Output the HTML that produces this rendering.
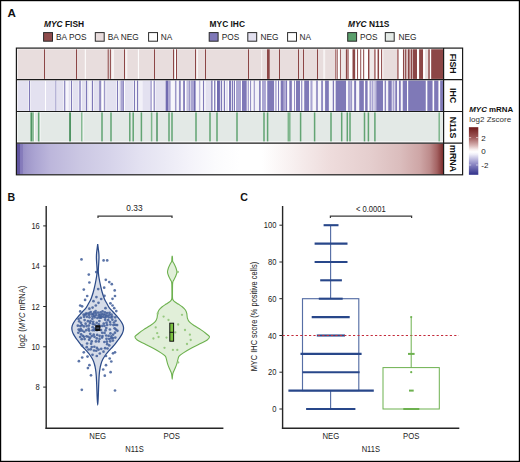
<!DOCTYPE html><html><head><meta charset="utf-8"><style>html,body{margin:0;padding:0;background:#fff}svg{display:block} text{font-family:"Liberation Sans", sans-serif}</style></head><body>
<svg width="520" height="462" viewBox="0 0 520 462">
<defs>
<linearGradient id="mg" x1="17" x2="443" y1="0" y2="0" gradientUnits="userSpaceOnUse">
<stop offset="0.0000" stop-color="#5f539e"/>
<stop offset="0.0075" stop-color="#62569f"/>
<stop offset="0.0080" stop-color="#8379ba"/>
<stop offset="0.0134" stop-color="#877dbb"/>
<stop offset="0.0138" stop-color="#978fc5"/>
<stop offset="0.0235" stop-color="#a098ca"/>
<stop offset="0.0423" stop-color="#aba4d2"/>
<stop offset="0.0775" stop-color="#bcb6db"/>
<stop offset="0.1479" stop-color="#cbc7e3"/>
<stop offset="0.2183" stop-color="#d6d3ea"/>
<stop offset="0.2887" stop-color="#e3e1f1"/>
<stop offset="0.3474" stop-color="#ebeaf5"/>
<stop offset="0.4061" stop-color="#f4f3fa"/>
<stop offset="0.4648" stop-color="#fbfbfd"/>
<stop offset="0.5235" stop-color="#ffffff"/>
<stop offset="0.5751" stop-color="#ffffff"/>
<stop offset="0.6408" stop-color="#f8f1f1"/>
<stop offset="0.7347" stop-color="#eedcdc"/>
<stop offset="0.8286" stop-color="#e5cece"/>
<stop offset="0.8991" stop-color="#dbbdbd"/>
<stop offset="0.9460" stop-color="#cea6a6"/>
<stop offset="0.9695" stop-color="#bd8b8b"/>
<stop offset="0.9859" stop-color="#a46262"/>
<stop offset="0.9953" stop-color="#8a4040"/>
<stop offset="1.0000" stop-color="#7b2c2c"/>
</linearGradient>
<linearGradient id="cb" x1="0" x2="0" y1="0" y2="1"><stop offset="0" stop-color="#6e1a1a"/><stop offset="0.22" stop-color="#a05a5a"/><stop offset="0.38" stop-color="#d7b3b3"/><stop offset="0.47" stop-color="#f7eeee"/><stop offset="0.52" stop-color="#ffffff"/><stop offset="0.57" stop-color="#efeef8"/><stop offset="0.66" stop-color="#c3c0e2"/><stop offset="0.78" stop-color="#8c87c4"/><stop offset="1" stop-color="#30308a"/></linearGradient>
</defs>
<rect x="0" y="0" width="520" height="462" fill="#fff"/>
<rect x="17.5" y="49.3" width="425.5" height="29.6" fill="#e8dddd"/>
<rect x="107.70" y="49.3" width="1.00" height="29.6" fill="#8c4646"/>
<rect x="109.90" y="49.3" width="1.00" height="29.6" fill="#8c4646"/>
<rect x="44.00" y="49.3" width="1.00" height="29.6" fill="#8c4646"/>
<rect x="76.00" y="49.3" width="1.00" height="29.6" fill="#8c4646"/>
<rect x="124.00" y="49.3" width="1.00" height="29.6" fill="#8c4646"/>
<rect x="154.00" y="49.3" width="1.00" height="29.6" fill="#8c4646"/>
<rect x="173.00" y="49.3" width="1.00" height="29.6" fill="#8c4646"/>
<rect x="176.00" y="49.3" width="1.00" height="29.6" fill="#8c4646"/>
<rect x="195.00" y="49.3" width="1.00" height="29.6" fill="#8c4646"/>
<rect x="205.00" y="49.3" width="1.00" height="29.6" fill="#8c4646"/>
<rect x="248.00" y="49.3" width="1.00" height="29.6" fill="#8c4646"/>
<rect x="279.00" y="49.3" width="1.00" height="29.6" fill="#8c4646"/>
<rect x="298.00" y="49.3" width="1.00" height="29.6" fill="#8c4646"/>
<rect x="303.00" y="49.3" width="1.00" height="29.6" fill="#8c4646"/>
<rect x="317.00" y="49.3" width="1.00" height="29.6" fill="#8c4646"/>
<rect x="111.60" y="49.3" width="2.40" height="29.6" fill="#f7f3f3"/>
<rect x="125.30" y="49.3" width="2.00" height="29.6" fill="#f7f3f3"/>
<rect x="323.20" y="49.3" width="2.00" height="29.6" fill="#f7f3f3"/>
<rect x="84.80" y="49.3" width="1.00" height="29.6" fill="#ffffff"/>
<rect x="137.90" y="49.3" width="1.00" height="29.6" fill="#ffffff"/>
<rect x="175.00" y="49.3" width="1.00" height="29.6" fill="#ffffff"/>
<rect x="196.70" y="49.3" width="1.00" height="29.6" fill="#ffffff"/>
<rect x="261.00" y="49.3" width="1.20" height="29.6" fill="#f6f0f0"/>
<rect x="267.00" y="49.3" width="2.70" height="29.6" fill="#8c4646"/>
<rect x="335.00" y="49.3" width="1.00" height="29.6" fill="#b27c7c"/>
<rect x="336.70" y="49.3" width="1.00" height="29.6" fill="#8c4646"/>
<rect x="337.90" y="49.3" width="1.70" height="29.6" fill="#ffffff"/>
<rect x="340.10" y="49.3" width="0.80" height="29.6" fill="#8c4646"/>
<rect x="341.20" y="49.3" width="4.50" height="29.6" fill="#efe8e8"/>
<rect x="345.90" y="49.3" width="1.40" height="29.6" fill="#8c4646"/>
<rect x="347.30" y="49.3" width="1.50" height="29.6" fill="#b27c7c"/>
<rect x="349.00" y="49.3" width="3.10" height="29.6" fill="#ffffff"/>
<rect x="352.60" y="49.3" width="2.60" height="29.6" fill="#8c4646"/>
<rect x="355.50" y="49.3" width="1.50" height="29.6" fill="#ffffff"/>
<rect x="357.10" y="49.3" width="0.90" height="29.6" fill="#8c4646"/>
<rect x="358.30" y="49.3" width="1.70" height="29.6" fill="#ffffff"/>
<rect x="360.30" y="49.3" width="1.00" height="29.6" fill="#8c4646"/>
<rect x="361.50" y="49.3" width="1.50" height="29.6" fill="#ffffff"/>
<rect x="363.20" y="49.3" width="0.90" height="29.6" fill="#8c4646"/>
<rect x="364.60" y="49.3" width="3.40" height="29.6" fill="#ffffff"/>
<rect x="368.00" y="49.3" width="1.40" height="29.6" fill="#8c4646"/>
<rect x="369.90" y="49.3" width="3.90" height="29.6" fill="#f0eaea"/>
<rect x="374.00" y="49.3" width="1.70" height="29.6" fill="#b27c7c"/>
<rect x="376.00" y="49.3" width="1.50" height="29.6" fill="#ffffff"/>
<rect x="377.60" y="49.3" width="1.60" height="29.6" fill="#8c4646"/>
<rect x="379.20" y="49.3" width="1.70" height="29.6" fill="#ffffff"/>
<rect x="381.10" y="49.3" width="1.20" height="29.6" fill="#8c4646"/>
<rect x="382.30" y="49.3" width="1.00" height="29.6" fill="#ffffff"/>
<rect x="397.00" y="49.3" width="1.70" height="29.6" fill="#b27c7c"/>
<rect x="399.00" y="49.3" width="3.80" height="29.6" fill="#ffffff"/>
<rect x="403.00" y="49.3" width="1.00" height="29.6" fill="#8c4646"/>
<rect x="404.00" y="49.3" width="1.00" height="29.6" fill="#d9c3c3"/>
<rect x="405.10" y="49.3" width="1.30" height="29.6" fill="#8c4646"/>
<rect x="406.60" y="49.3" width="1.20" height="29.6" fill="#d9c3c3"/>
<rect x="408.00" y="49.3" width="1.70" height="29.6" fill="#8c4646"/>
<rect x="409.90" y="49.3" width="0.70" height="29.6" fill="#ffffff"/>
<rect x="410.60" y="49.3" width="1.40" height="29.6" fill="#8c4646"/>
<rect x="412.00" y="49.3" width="0.60" height="29.6" fill="#ffffff"/>
<rect x="412.60" y="49.3" width="4.40" height="29.6" fill="#8c4646"/>
<rect x="417.00" y="49.3" width="1.90" height="29.6" fill="#ffffff"/>
<rect x="419.10" y="49.3" width="3.90" height="29.6" fill="#8c4646"/>
<rect x="423.20" y="49.3" width="1.90" height="29.6" fill="#ffffff"/>
<rect x="428.30" y="49.3" width="1.40" height="29.6" fill="#8c4646"/>
<rect x="430.00" y="49.3" width="1.00" height="29.6" fill="#ffffff"/>
<rect x="431.20" y="49.3" width="11.80" height="29.6" fill="#8c4646"/>
<rect x="17.5" y="80.6" width="425.5" height="30.3" fill="#e3e1f0"/>
<rect x="28.60" y="80.6" width="0.40" height="30.3" fill="#ffffff"/>
<rect x="29.00" y="80.6" width="1.00" height="30.3" fill="#7f79b7"/>
<rect x="30.00" y="80.6" width="0.40" height="30.3" fill="#ffffff"/>
<rect x="45.00" y="80.6" width="1.00" height="30.3" fill="#ffffff"/>
<rect x="55.00" y="80.6" width="0.50" height="30.3" fill="#ffffff"/>
<rect x="55.50" y="80.6" width="1.00" height="30.3" fill="#7f79b7"/>
<rect x="56.50" y="80.6" width="0.50" height="30.3" fill="#ffffff"/>
<rect x="63.50" y="80.6" width="0.70" height="30.3" fill="#ffffff"/>
<rect x="64.20" y="80.6" width="1.00" height="30.3" fill="#7f79b7"/>
<rect x="65.80" y="80.6" width="2.90" height="30.3" fill="#f7f6fb"/>
<rect x="70.50" y="80.6" width="0.50" height="30.3" fill="#ffffff"/>
<rect x="71.00" y="80.6" width="1.00" height="30.3" fill="#7f79b7"/>
<rect x="72.00" y="80.6" width="0.50" height="30.3" fill="#ffffff"/>
<rect x="78.60" y="80.6" width="0.40" height="30.3" fill="#ffffff"/>
<rect x="79.00" y="80.6" width="2.00" height="30.3" fill="#aaa5d2"/>
<rect x="81.00" y="80.6" width="0.70" height="30.3" fill="#ffffff"/>
<rect x="86.00" y="80.6" width="1.00" height="30.3" fill="#7f79b7"/>
<rect x="88.40" y="80.6" width="2.40" height="30.3" fill="#f7f6fb"/>
<rect x="92.00" y="80.6" width="1.00" height="30.3" fill="#7f79b7"/>
<rect x="93.00" y="80.6" width="0.50" height="30.3" fill="#ffffff"/>
<rect x="99.30" y="80.6" width="1.50" height="30.3" fill="#7f79b7"/>
<rect x="101.90" y="80.6" width="1.40" height="30.3" fill="#ffffff"/>
<rect x="104.30" y="80.6" width="1.00" height="30.3" fill="#7f79b7"/>
<rect x="105.50" y="80.6" width="0.70" height="30.3" fill="#ffffff"/>
<rect x="116.50" y="80.6" width="0.50" height="30.3" fill="#ffffff"/>
<rect x="117.00" y="80.6" width="1.00" height="30.3" fill="#7f79b7"/>
<rect x="118.40" y="80.6" width="0.80" height="30.3" fill="#ffffff"/>
<rect x="120.60" y="80.6" width="2.60" height="30.3" fill="#aaa5d2"/>
<rect x="123.20" y="80.6" width="0.80" height="30.3" fill="#7f79b7"/>
<rect x="124.00" y="80.6" width="1.00" height="30.3" fill="#ffffff"/>
<rect x="133.60" y="80.6" width="0.40" height="30.3" fill="#ffffff"/>
<rect x="134.00" y="80.6" width="1.00" height="30.3" fill="#7f79b7"/>
<rect x="135.50" y="80.6" width="1.00" height="30.3" fill="#ffffff"/>
<rect x="137.00" y="80.6" width="1.00" height="30.3" fill="#7f79b7"/>
<rect x="138.80" y="80.6" width="3.90" height="30.3" fill="#f2f1f8"/>
<rect x="150.40" y="80.6" width="1.40" height="30.3" fill="#aaa5d2"/>
<rect x="152.00" y="80.6" width="1.50" height="30.3" fill="#ffffff"/>
<rect x="153.70" y="80.6" width="1.00" height="30.3" fill="#7f79b7"/>
<rect x="155.00" y="80.6" width="0.50" height="30.3" fill="#ffffff"/>
<rect x="165.70" y="80.6" width="2.40" height="30.3" fill="#716bb0"/>
<rect x="168.10" y="80.6" width="2.40" height="30.3" fill="#aaa5d2"/>
<rect x="171.00" y="80.6" width="3.80" height="30.3" fill="#f7f6fb"/>
<rect x="175.30" y="80.6" width="1.00" height="30.3" fill="#7f79b7"/>
<rect x="176.80" y="80.6" width="1.90" height="30.3" fill="#f7f6fb"/>
<rect x="179.20" y="80.6" width="1.40" height="30.3" fill="#7f79b7"/>
<rect x="181.00" y="80.6" width="2.00" height="30.3" fill="#f7f6fb"/>
<rect x="183.20" y="80.6" width="1.70" height="30.3" fill="#7f79b7"/>
<rect x="185.00" y="80.6" width="1.50" height="30.3" fill="#ffffff"/>
<rect x="186.70" y="80.6" width="1.10" height="30.3" fill="#aaa5d2"/>
<rect x="187.80" y="80.6" width="0.70" height="30.3" fill="#ffffff"/>
<rect x="188.60" y="80.6" width="1.10" height="30.3" fill="#7f79b7"/>
<rect x="190.70" y="80.6" width="3.30" height="30.3" fill="#aaa5d2"/>
<rect x="194.00" y="80.6" width="1.50" height="30.3" fill="#716bb0"/>
<rect x="196.00" y="80.6" width="2.90" height="30.3" fill="#f7f6fb"/>
<rect x="199.30" y="80.6" width="1.00" height="30.3" fill="#aaa5d2"/>
<rect x="200.50" y="80.6" width="2.30" height="30.3" fill="#f7f6fb"/>
<rect x="203.00" y="80.6" width="1.00" height="30.3" fill="#7f79b7"/>
<rect x="204.50" y="80.6" width="1.00" height="30.3" fill="#ffffff"/>
<rect x="211.20" y="80.6" width="1.50" height="30.3" fill="#7f79b7"/>
<rect x="212.70" y="80.6" width="1.40" height="30.3" fill="#ffffff"/>
<rect x="214.10" y="80.6" width="1.50" height="30.3" fill="#7f79b7"/>
<rect x="215.60" y="80.6" width="1.40" height="30.3" fill="#ffffff"/>
<rect x="217.00" y="80.6" width="2.90" height="30.3" fill="#716bb0"/>
<rect x="220.90" y="80.6" width="1.40" height="30.3" fill="#7f79b7"/>
<rect x="222.30" y="80.6" width="1.50" height="30.3" fill="#ffffff"/>
<rect x="223.80" y="80.6" width="1.40" height="30.3" fill="#7f79b7"/>
<rect x="225.20" y="80.6" width="0.80" height="30.3" fill="#ffffff"/>
<rect x="228.00" y="80.6" width="1.00" height="30.3" fill="#ffffff"/>
<rect x="229.00" y="80.6" width="2.00" height="30.3" fill="#7f79b7"/>
<rect x="232.00" y="80.6" width="1.00" height="30.3" fill="#7f79b7"/>
<rect x="234.00" y="80.6" width="1.00" height="30.3" fill="#7f79b7"/>
<rect x="235.00" y="80.6" width="1.00" height="30.3" fill="#ffffff"/>
<rect x="236.00" y="80.6" width="5.00" height="30.3" fill="#aaa5d2"/>
<rect x="241.00" y="80.6" width="1.00" height="30.3" fill="#ffffff"/>
<rect x="242.00" y="80.6" width="4.80" height="30.3" fill="#7f79b7"/>
<rect x="246.80" y="80.6" width="1.00" height="30.3" fill="#ffffff"/>
<rect x="247.80" y="80.6" width="1.00" height="30.3" fill="#7f79b7"/>
<rect x="248.80" y="80.6" width="1.40" height="30.3" fill="#ffffff"/>
<rect x="250.20" y="80.6" width="1.00" height="30.3" fill="#7f79b7"/>
<rect x="251.20" y="80.6" width="2.60" height="30.3" fill="#f7f6fb"/>
<rect x="253.80" y="80.6" width="1.00" height="30.3" fill="#7f79b7"/>
<rect x="254.80" y="80.6" width="4.30" height="30.3" fill="#f2f1f8"/>
<rect x="259.10" y="80.6" width="1.50" height="30.3" fill="#7f79b7"/>
<rect x="261.00" y="80.6" width="1.00" height="30.3" fill="#ffffff"/>
<rect x="262.00" y="80.6" width="3.90" height="30.3" fill="#aaa5d2"/>
<rect x="266.20" y="80.6" width="0.90" height="30.3" fill="#ffffff"/>
<rect x="267.30" y="80.6" width="6.70" height="30.3" fill="#7f79b7"/>
<rect x="274.50" y="80.6" width="1.00" height="30.3" fill="#ffffff"/>
<rect x="275.50" y="80.6" width="1.00" height="30.3" fill="#7f79b7"/>
<rect x="276.70" y="80.6" width="1.20" height="30.3" fill="#ffffff"/>
<rect x="278.00" y="80.6" width="1.00" height="30.3" fill="#7f79b7"/>
<rect x="279.30" y="80.6" width="1.00" height="30.3" fill="#ffffff"/>
<rect x="280.80" y="80.6" width="2.90" height="30.3" fill="#7f79b7"/>
<rect x="284.00" y="80.6" width="1.80" height="30.3" fill="#aaa5d2"/>
<rect x="286.00" y="80.6" width="1.00" height="30.3" fill="#7f79b7"/>
<rect x="287.50" y="80.6" width="1.50" height="30.3" fill="#ffffff"/>
<rect x="289.40" y="80.6" width="2.40" height="30.3" fill="#7f79b7"/>
<rect x="292.30" y="80.6" width="1.50" height="30.3" fill="#ffffff"/>
<rect x="294.00" y="80.6" width="0.80" height="30.3" fill="#7f79b7"/>
<rect x="295.00" y="80.6" width="0.70" height="30.3" fill="#ffffff"/>
<rect x="296.00" y="80.6" width="4.10" height="30.3" fill="#7f79b7"/>
<rect x="300.10" y="80.6" width="1.00" height="30.3" fill="#ffffff"/>
<rect x="301.30" y="80.6" width="1.00" height="30.3" fill="#7f79b7"/>
<rect x="302.60" y="80.6" width="1.20" height="30.3" fill="#ffffff"/>
<rect x="304.30" y="80.6" width="4.70" height="30.3" fill="#7f79b7"/>
<rect x="309.30" y="80.6" width="1.00" height="30.3" fill="#ffffff"/>
<rect x="310.50" y="80.6" width="1.90" height="30.3" fill="#aaa5d2"/>
<rect x="312.90" y="80.6" width="2.90" height="30.3" fill="#f7f6fb"/>
<rect x="316.30" y="80.6" width="1.40" height="30.3" fill="#7f79b7"/>
<rect x="318.00" y="80.6" width="3.00" height="30.3" fill="#f7f6fb"/>
<rect x="321.30" y="80.6" width="1.50" height="30.3" fill="#7f79b7"/>
<rect x="323.00" y="80.6" width="2.00" height="30.3" fill="#f7f6fb"/>
<rect x="325.10" y="80.6" width="3.70" height="30.3" fill="#7f79b7"/>
<rect x="329.00" y="80.6" width="3.60" height="30.3" fill="#f7f6fb"/>
<rect x="332.80" y="80.6" width="1.20" height="30.3" fill="#7f79b7"/>
<rect x="334.30" y="80.6" width="1.20" height="30.3" fill="#ffffff"/>
<rect x="335.70" y="80.6" width="10.30" height="30.3" fill="#7f79b7"/>
<rect x="346.00" y="80.6" width="2.00" height="30.3" fill="#f7f6fb"/>
<rect x="348.00" y="80.6" width="2.80" height="30.3" fill="#aaa5d2"/>
<rect x="351.30" y="80.6" width="1.00" height="30.3" fill="#7f79b7"/>
<rect x="352.30" y="80.6" width="1.40" height="30.3" fill="#ffffff"/>
<rect x="354.20" y="80.6" width="1.90" height="30.3" fill="#7f79b7"/>
<rect x="356.40" y="80.6" width="2.60" height="30.3" fill="#f7f6fb"/>
<rect x="359.30" y="80.6" width="4.50" height="30.3" fill="#7f79b7"/>
<rect x="364.00" y="80.6" width="1.00" height="30.3" fill="#ffffff"/>
<rect x="365.20" y="80.6" width="2.40" height="30.3" fill="#7f79b7"/>
<rect x="367.90" y="80.6" width="1.20" height="30.3" fill="#ffffff"/>
<rect x="369.60" y="80.6" width="6.20" height="30.3" fill="#aaa5d2"/>
<rect x="371.00" y="80.6" width="0.50" height="30.3" fill="#ffffff"/>
<rect x="373.20" y="80.6" width="0.50" height="30.3" fill="#ffffff"/>
<rect x="374.60" y="80.6" width="0.50" height="30.3" fill="#ffffff"/>
<rect x="376.30" y="80.6" width="6.70" height="30.3" fill="#7f79b7"/>
<rect x="383.30" y="80.6" width="1.20" height="30.3" fill="#ffffff"/>
<rect x="384.70" y="80.6" width="1.20" height="30.3" fill="#7f79b7"/>
<rect x="386.20" y="80.6" width="1.60" height="30.3" fill="#f7f6fb"/>
<rect x="388.30" y="80.6" width="3.40" height="30.3" fill="#7f79b7"/>
<rect x="392.00" y="80.6" width="0.60" height="30.3" fill="#ffffff"/>
<rect x="392.60" y="80.6" width="1.40" height="30.3" fill="#aaa5d2"/>
<rect x="394.00" y="80.6" width="0.50" height="30.3" fill="#7f79b7"/>
<rect x="394.50" y="80.6" width="0.80" height="30.3" fill="#ffffff"/>
<rect x="395.30" y="80.6" width="1.70" height="30.3" fill="#7f79b7"/>
<rect x="397.10" y="80.6" width="1.70" height="30.3" fill="#f7f6fb"/>
<rect x="399.00" y="80.6" width="1.80" height="30.3" fill="#7f79b7"/>
<rect x="400.90" y="80.6" width="1.80" height="30.3" fill="#f7f6fb"/>
<rect x="402.80" y="80.6" width="4.20" height="30.3" fill="#7f79b7"/>
<rect x="407.00" y="80.6" width="1.20" height="30.3" fill="#ffffff"/>
<rect x="408.20" y="80.6" width="17.50" height="30.3" fill="#7f79b7"/>
<rect x="426.00" y="80.6" width="1.20" height="30.3" fill="#ffffff"/>
<rect x="427.40" y="80.6" width="5.20" height="30.3" fill="#7f79b7"/>
<rect x="432.80" y="80.6" width="1.20" height="30.3" fill="#ffffff"/>
<rect x="434.20" y="80.6" width="4.30" height="30.3" fill="#7f79b7"/>
<rect x="438.70" y="80.6" width="1.30" height="30.3" fill="#ffffff"/>
<rect x="440.20" y="80.6" width="2.80" height="30.3" fill="#7f79b7"/>
<rect x="17.5" y="112.4" width="425.5" height="29.0" fill="#e3e9e6"/>
<rect x="30.20" y="112.4" width="0.80" height="29.0" fill="#7db58b"/>
<rect x="31.00" y="112.4" width="1.20" height="29.0" fill="#4f9463"/>
<rect x="32.20" y="112.4" width="1.70" height="29.0" fill="#7db58b"/>
<rect x="33.90" y="112.4" width="0.90" height="29.0" fill="#ffffff"/>
<rect x="37.90" y="112.4" width="1.80" height="29.0" fill="#62a473"/>
<rect x="39.70" y="112.4" width="0.70" height="29.0" fill="#ffffff"/>
<rect x="69.10" y="112.4" width="1.90" height="29.0" fill="#4f9463"/>
<rect x="81.10" y="112.4" width="1.60" height="29.0" fill="#7db58b"/>
<rect x="82.70" y="112.4" width="0.70" height="29.0" fill="#ffffff"/>
<rect x="101.25" y="112.4" width="1.50" height="29.0" fill="#62a473"/>
<rect x="110.25" y="112.4" width="1.50" height="29.0" fill="#62a473"/>
<rect x="129.05" y="112.4" width="1.50" height="29.0" fill="#62a473"/>
<rect x="132.45" y="112.4" width="1.50" height="29.0" fill="#62a473"/>
<rect x="140.65" y="112.4" width="1.50" height="29.0" fill="#62a473"/>
<rect x="150.85" y="112.4" width="1.50" height="29.0" fill="#7db58b"/>
<rect x="156.25" y="112.4" width="1.50" height="29.0" fill="#4f9463"/>
<rect x="168.25" y="112.4" width="1.50" height="29.0" fill="#62a473"/>
<rect x="171.25" y="112.4" width="1.50" height="29.0" fill="#62a473"/>
<rect x="195.25" y="112.4" width="1.50" height="29.0" fill="#62a473"/>
<rect x="209.25" y="112.4" width="1.50" height="29.0" fill="#62a473"/>
<rect x="216.25" y="112.4" width="1.50" height="29.0" fill="#62a473"/>
<rect x="236.25" y="112.4" width="1.50" height="29.0" fill="#62a473"/>
<rect x="263.25" y="112.4" width="1.50" height="29.0" fill="#62a473"/>
<rect x="266.85" y="112.4" width="1.50" height="29.0" fill="#62a473"/>
<rect x="287.55" y="112.4" width="1.50" height="29.0" fill="#7db58b"/>
<rect x="289.05" y="112.4" width="1.50" height="29.0" fill="#7db58b"/>
<rect x="299.85" y="112.4" width="1.50" height="29.0" fill="#62a473"/>
<rect x="313.85" y="112.4" width="1.50" height="29.0" fill="#62a473"/>
<rect x="330.25" y="112.4" width="1.50" height="29.0" fill="#62a473"/>
<rect x="340.95" y="112.4" width="1.50" height="29.0" fill="#62a473"/>
<rect x="346.55" y="112.4" width="1.50" height="29.0" fill="#62a473"/>
<rect x="349.25" y="112.4" width="1.50" height="29.0" fill="#62a473"/>
<rect x="363.75" y="112.4" width="1.50" height="29.0" fill="#62a473"/>
<rect x="367.65" y="112.4" width="1.50" height="29.0" fill="#62a473"/>
<rect x="374.15" y="112.4" width="1.50" height="29.0" fill="#62a473"/>
<rect x="438.45" y="112.4" width="1.50" height="29.0" fill="#7db58b"/>
<rect x="16.8" y="143.8" width="426.2" height="30.6" fill="url(#mg)"/>
<g stroke="#1a1a1a" stroke-width="1.2" fill="none">
<rect x="16.4" y="48.1" width="446.2" height="126.7"/>
<line x1="16.4" x2="462.6" y1="79.6" y2="79.6"/>
<line x1="16.4" x2="462.6" y1="111.5" y2="111.5"/>
<line x1="16.4" x2="462.6" y1="143.2" y2="143.2"/>
<line x1="443.6" x2="443.6" y1="47.9" y2="174.8"/>
</g>
<text x="0" y="0" transform="translate(450.0,63.7) rotate(90)" font-size="8.8" font-weight="bold" text-anchor="middle" fill="#111">FISH</text>
<text x="0" y="0" transform="translate(450.0,95.7) rotate(90)" font-size="8.8" font-weight="bold" text-anchor="middle" fill="#111">IHC</text>
<text x="0" y="0" transform="translate(450.0,127.5) rotate(90)" font-size="8.8" font-weight="bold" text-anchor="middle" fill="#111">N11S</text>
<text x="0" y="0" transform="translate(450.0,158.5) rotate(90)" font-size="8.8" font-weight="bold" text-anchor="middle" fill="#111">mRNA</text>
<text x="7.6" y="17.2" font-size="11.6" font-weight="bold" fill="#111">A</text>
<text x="44.0" y="27.3" font-size="8.4" font-weight="bold" fill="#111"><tspan font-style="italic">MYC</tspan> FISH</text>
<text x="209.6" y="27.3" font-size="8.4" font-weight="bold" fill="#111">MYC IHC</text>
<text x="348.0" y="27.3" font-size="8.4" font-weight="bold" fill="#111"><tspan font-style="italic">MYC</tspan> N11S</text>
<rect x="43.6" y="32.6" width="8.9" height="8.6" fill="#8f4c4c" stroke="#2a2a2a" stroke-width="1"/>
<text x="56.0" y="39.6" font-size="8.3" fill="#262626">BA POS</text>
<rect x="95.3" y="32.6" width="8.9" height="8.6" fill="#e8dcdc" stroke="#2a2a2a" stroke-width="1"/>
<text x="107.8" y="39.6" font-size="8.3" fill="#262626">BA NEG</text>
<rect x="148.6" y="32.6" width="8.9" height="8.6" fill="#ffffff" stroke="#2a2a2a" stroke-width="1"/>
<text x="160.8" y="39.6" font-size="8.3" fill="#262626">NA</text>
<rect x="209.2" y="32.6" width="8.9" height="8.6" fill="#7f78b8" stroke="#2a2a2a" stroke-width="1"/>
<text x="221.8" y="39.6" font-size="8.3" fill="#262626">POS</text>
<rect x="247.8" y="32.6" width="8.9" height="8.6" fill="#e2e0ef" stroke="#2a2a2a" stroke-width="1"/>
<text x="260.4" y="39.6" font-size="8.3" fill="#262626">NEG</text>
<rect x="287.6" y="32.6" width="8.9" height="8.6" fill="#ffffff" stroke="#2a2a2a" stroke-width="1"/>
<text x="299.6" y="39.6" font-size="8.3" fill="#262626">NA</text>
<rect x="347.7" y="32.6" width="8.9" height="8.6" fill="#5a9f6c" stroke="#2a2a2a" stroke-width="1"/>
<text x="360.0" y="39.6" font-size="8.3" fill="#262626">POS</text>
<rect x="385.3" y="32.6" width="8.9" height="8.6" fill="#e3e9e5" stroke="#2a2a2a" stroke-width="1"/>
<text x="398.4" y="39.6" font-size="8.3" fill="#262626">NEG</text>
<text x="469.3" y="111.7" font-size="7.9" font-weight="bold" fill="#111"><tspan font-style="italic">MYC</tspan> mRNA</text>
<text x="469.3" y="121.6" font-size="8" fill="#333">log2 Zscore</text>
<rect x="468.9" y="127.2" width="9.4" height="47.6" fill="url(#cb)"/>
<line x1="469" x2="471.2" y1="137.6" y2="137.6" stroke="#fff" stroke-width="0.7" stroke-opacity="0.8"/>
<line x1="476" x2="478.3" y1="137.6" y2="137.6" stroke="#fff" stroke-width="0.7" stroke-opacity="0.8"/>
<text x="481.3" y="140.5" font-size="8" fill="#222">2</text>
<line x1="469" x2="471.2" y1="151.2" y2="151.2" stroke="#fff" stroke-width="0.7" stroke-opacity="0.8"/>
<line x1="476" x2="478.3" y1="151.2" y2="151.2" stroke="#fff" stroke-width="0.7" stroke-opacity="0.8"/>
<text x="481.3" y="154.1" font-size="8" fill="#222">0</text>
<line x1="469" x2="471.2" y1="165.0" y2="165.0" stroke="#fff" stroke-width="0.7" stroke-opacity="0.8"/>
<line x1="476" x2="478.3" y1="165.0" y2="165.0" stroke="#fff" stroke-width="0.7" stroke-opacity="0.8"/>
<text x="481.3" y="167.9" font-size="8" fill="#222">-2</text>
<text x="7.6" y="200.6" font-size="10.6" font-weight="bold" fill="#111">B</text>
<line x1="46.2" x2="46.2" y1="206" y2="429" stroke="#262626" stroke-width="1.4"/>
<line x1="45.5" x2="223.4" y1="428.2" y2="428.2" stroke="#262626" stroke-width="1.5"/>
<line x1="43.2" x2="46.2" y1="387.1" y2="387.1" stroke="#262626" stroke-width="1"/>
<text x="0" y="0" transform="translate(39.8,390.2) scale(0.88,1)" font-size="8.6" text-anchor="end" fill="#222">8</text>
<line x1="43.2" x2="46.2" y1="346.8" y2="346.8" stroke="#262626" stroke-width="1"/>
<text x="0" y="0" transform="translate(39.8,349.9) scale(0.88,1)" font-size="8.6" text-anchor="end" fill="#222">10</text>
<line x1="43.2" x2="46.2" y1="306.5" y2="306.5" stroke="#262626" stroke-width="1"/>
<text x="0" y="0" transform="translate(39.8,309.6) scale(0.88,1)" font-size="8.6" text-anchor="end" fill="#222">12</text>
<line x1="43.2" x2="46.2" y1="266.2" y2="266.2" stroke="#262626" stroke-width="1"/>
<text x="0" y="0" transform="translate(39.8,269.3) scale(0.88,1)" font-size="8.6" text-anchor="end" fill="#222">14</text>
<line x1="43.2" x2="46.2" y1="225.9" y2="225.9" stroke="#262626" stroke-width="1"/>
<text x="0" y="0" transform="translate(39.8,229.0) scale(0.88,1)" font-size="8.6" text-anchor="end" fill="#222">16</text>
<text x="0" y="0" transform="translate(24.5,317) rotate(-90) scale(0.84,1)" font-size="9" text-anchor="middle" fill="#222">log2 (<tspan font-style="italic">MYC</tspan> mRNA)</text>
<text x="0" y="0" transform="translate(97.7,438.6) scale(0.9,1)" font-size="8.6" text-anchor="middle" fill="#222">NEG</text>
<text x="0" y="0" transform="translate(171.7,438.6) scale(0.9,1)" font-size="8.6" text-anchor="middle" fill="#222">POS</text>
<text x="0" y="0" transform="translate(134.5,452.3) scale(0.9,1)" font-size="8.4" text-anchor="middle" fill="#222">N11S</text>
<path d="M98 218 V216.2 H172 V218" stroke="#3a3a3a" stroke-width="1.25" fill="none"/>
<text x="0" y="0" transform="translate(134.5,211) scale(0.95,1)" font-size="8.8" text-anchor="middle" fill="#222">0.33</text>
<path d="M97.70 244.00 C97.78 244.67 98.02 246.50 98.20 248.00 C98.38 249.50 98.67 251.42 98.80 253.00 C98.93 254.58 99.00 256.00 99.00 257.50 C99.00 259.00 98.89 260.42 98.80 262.00 C98.71 263.58 98.53 265.33 98.45 267.00 C98.37 268.67 98.22 270.33 98.30 272.00 C98.38 273.67 98.65 275.33 98.90 277.00 C99.15 278.67 99.45 280.23 99.80 282.00 C100.15 283.77 100.62 285.93 101.00 287.60 C101.38 289.27 101.65 290.43 102.10 292.00 C102.55 293.57 103.23 295.67 103.70 297.00 C104.17 298.33 104.42 299.00 104.90 300.00 C105.38 301.00 105.92 301.78 106.60 303.00 C107.28 304.22 107.98 305.88 109.00 307.30 C110.02 308.72 111.42 310.05 112.70 311.50 C113.98 312.95 115.48 314.58 116.70 316.00 C117.92 317.42 119.03 318.67 120.00 320.00 C120.97 321.33 121.92 322.78 122.50 324.00 C123.08 325.22 123.37 326.22 123.50 327.30 C123.63 328.38 123.50 329.47 123.30 330.50 C123.10 331.53 122.80 332.45 122.30 333.50 C121.80 334.55 121.00 335.72 120.30 336.80 C119.60 337.88 118.92 338.85 118.10 340.00 C117.28 341.15 116.33 342.53 115.40 343.70 C114.47 344.87 113.55 345.85 112.50 347.00 C111.45 348.15 110.15 349.43 109.10 350.60 C108.05 351.77 107.25 352.55 106.20 354.00 C105.15 355.45 103.67 357.63 102.80 359.30 C101.93 360.97 101.48 362.38 101.00 364.00 C100.52 365.62 100.20 367.17 99.90 369.00 C99.60 370.83 99.38 372.83 99.20 375.00 C99.02 377.17 98.92 379.50 98.80 382.00 C98.68 384.50 98.60 387.33 98.50 390.00 C98.40 392.67 98.33 395.50 98.20 398.00 C98.07 400.50 97.87 405.00 97.70 405.00 C97.53 405.00 97.33 400.50 97.20 398.00 C97.07 395.50 97.00 392.67 96.90 390.00 C96.80 387.33 96.72 384.50 96.60 382.00 C96.48 379.50 96.38 377.17 96.20 375.00 C96.02 372.83 95.80 370.83 95.50 369.00 C95.20 367.17 94.88 365.62 94.40 364.00 C93.92 362.38 93.47 360.97 92.60 359.30 C91.73 357.63 90.25 355.45 89.20 354.00 C88.15 352.55 87.35 351.77 86.30 350.60 C85.25 349.43 83.95 348.15 82.90 347.00 C81.85 345.85 80.93 344.87 80.00 343.70 C79.07 342.53 78.12 341.15 77.30 340.00 C76.48 338.85 75.80 337.88 75.10 336.80 C74.40 335.72 73.60 334.55 73.10 333.50 C72.60 332.45 72.30 331.53 72.10 330.50 C71.90 329.47 71.77 328.38 71.90 327.30 C72.03 326.22 72.32 325.22 72.90 324.00 C73.48 322.78 74.43 321.33 75.40 320.00 C76.37 318.67 77.48 317.42 78.70 316.00 C79.92 314.58 81.42 312.95 82.70 311.50 C83.98 310.05 85.38 308.72 86.40 307.30 C87.42 305.88 88.12 304.22 88.80 303.00 C89.48 301.78 90.02 301.00 90.50 300.00 C90.98 299.00 91.23 298.33 91.70 297.00 C92.17 295.67 92.85 293.57 93.30 292.00 C93.75 290.43 94.02 289.27 94.40 287.60 C94.78 285.93 95.25 283.77 95.60 282.00 C95.95 280.23 96.25 278.67 96.50 277.00 C96.75 275.33 97.03 273.67 97.10 272.00 C97.18 270.33 97.03 268.67 96.95 267.00 C96.87 265.33 96.69 263.58 96.60 262.00 C96.51 260.42 96.40 259.00 96.40 257.50 C96.40 256.00 96.47 254.58 96.60 253.00 C96.73 251.42 97.02 249.50 97.20 248.00 C97.38 246.50 97.62 244.67 97.70 244.00Z" fill="#d6dce8" stroke="#2b4a88" stroke-width="1.25"/>
<path d="M172.20 255.80 C172.25 256.17 172.42 257.08 172.50 258.00 C172.58 258.92 172.42 260.30 172.70 261.30 C172.98 262.30 173.65 262.88 174.20 264.00 C174.75 265.12 175.55 266.67 176.00 268.00 C176.45 269.33 176.93 270.67 176.90 272.00 C176.87 273.33 176.32 274.67 175.80 276.00 C175.28 277.33 174.32 278.88 173.80 280.00 C173.28 281.12 172.92 281.03 172.70 282.70 C172.48 284.37 172.53 287.62 172.50 290.00 C172.47 292.38 172.45 295.42 172.50 297.00 C172.55 298.58 172.52 298.78 172.80 299.50 C173.08 300.22 173.30 300.55 174.20 301.30 C175.10 302.05 176.82 303.05 178.20 304.00 C179.58 304.95 181.30 306.00 182.50 307.00 C183.70 308.00 184.68 308.92 185.40 310.00 C186.12 311.08 186.47 312.15 186.80 313.50 C187.13 314.85 186.97 316.70 187.40 318.10 C187.83 319.50 188.22 320.62 189.40 321.90 C190.58 323.18 192.62 324.52 194.50 325.80 C196.38 327.08 198.78 328.32 200.70 329.60 C202.62 330.88 204.53 332.32 206.00 333.50 C207.47 334.68 209.30 335.62 209.50 336.70 C209.70 337.78 208.80 338.82 207.20 340.00 C205.60 341.18 202.65 342.38 199.90 343.80 C197.15 345.22 193.52 346.95 190.70 348.50 C187.88 350.05 184.93 351.82 183.00 353.10 C181.07 354.38 179.93 355.18 179.10 356.20 C178.27 357.22 178.38 357.93 178.00 359.20 C177.62 360.47 177.30 362.25 176.80 363.80 C176.30 365.35 175.63 366.95 175.00 368.50 C174.37 370.05 173.42 371.82 173.00 373.10 C172.58 374.38 172.63 375.18 172.50 376.20 C172.37 377.22 172.30 379.20 172.20 379.20 C172.10 379.20 172.03 377.22 171.90 376.20 C171.77 375.18 171.82 374.38 171.40 373.10 C170.98 371.82 170.03 370.05 169.40 368.50 C168.77 366.95 168.10 365.35 167.60 363.80 C167.10 362.25 166.78 360.47 166.40 359.20 C166.02 357.93 166.13 357.22 165.30 356.20 C164.47 355.18 163.33 354.38 161.40 353.10 C159.47 351.82 156.52 350.05 153.70 348.50 C150.88 346.95 147.25 345.22 144.50 343.80 C141.75 342.38 138.80 341.18 137.20 340.00 C135.60 338.82 134.70 337.78 134.90 336.70 C135.10 335.62 136.93 334.68 138.40 333.50 C139.87 332.32 141.78 330.88 143.70 329.60 C145.62 328.32 148.02 327.08 149.90 325.80 C151.78 324.52 153.82 323.18 155.00 321.90 C156.18 320.62 156.57 319.50 157.00 318.10 C157.43 316.70 157.27 314.85 157.60 313.50 C157.93 312.15 158.28 311.08 159.00 310.00 C159.72 308.92 160.70 308.00 161.90 307.00 C163.10 306.00 164.82 304.95 166.20 304.00 C167.58 303.05 169.30 302.05 170.20 301.30 C171.10 300.55 171.32 300.22 171.60 299.50 C171.88 298.78 171.85 298.58 171.90 297.00 C171.95 295.42 171.93 292.38 171.90 290.00 C171.87 287.62 171.92 284.37 171.70 282.70 C171.48 281.03 171.12 281.12 170.60 280.00 C170.08 278.88 169.12 277.33 168.60 276.00 C168.08 274.67 167.53 273.33 167.50 272.00 C167.47 270.67 167.95 269.33 168.40 268.00 C168.85 266.67 169.65 265.12 170.20 264.00 C170.75 262.88 171.42 262.30 171.70 261.30 C171.98 260.30 171.82 258.92 171.90 258.00 C171.98 257.08 172.15 256.17 172.20 255.80Z" fill="#e1efd9" stroke="#6db14f" stroke-width="1.1"/>
<circle cx="81.50" cy="259.40" r="1.35" fill="#405d99" fill-opacity="0.85"/>
<circle cx="103.60" cy="260.40" r="1.35" fill="#405d99" fill-opacity="0.85"/>
<circle cx="107.20" cy="260.40" r="1.35" fill="#405d99" fill-opacity="0.85"/>
<circle cx="96.20" cy="272.10" r="1.35" fill="#405d99" fill-opacity="0.85"/>
<circle cx="88.80" cy="274.60" r="1.35" fill="#405d99" fill-opacity="0.85"/>
<circle cx="105.80" cy="279.80" r="1.35" fill="#405d99" fill-opacity="0.85"/>
<circle cx="89.40" cy="282.50" r="1.35" fill="#405d99" fill-opacity="0.85"/>
<circle cx="109.30" cy="282.10" r="1.35" fill="#405d99" fill-opacity="0.85"/>
<circle cx="111.80" cy="284.20" r="1.35" fill="#405d99" fill-opacity="0.85"/>
<circle cx="104.20" cy="287.70" r="1.35" fill="#405d99" fill-opacity="0.85"/>
<circle cx="83.80" cy="289.60" r="1.35" fill="#405d99" fill-opacity="0.85"/>
<circle cx="98.20" cy="289.10" r="1.35" fill="#405d99" fill-opacity="0.85"/>
<circle cx="114.70" cy="290.40" r="1.35" fill="#405d99" fill-opacity="0.85"/>
<circle cx="87.20" cy="296.00" r="1.35" fill="#405d99" fill-opacity="0.85"/>
<circle cx="96.40" cy="297.10" r="1.35" fill="#405d99" fill-opacity="0.85"/>
<circle cx="104.50" cy="295.80" r="1.35" fill="#405d99" fill-opacity="0.85"/>
<circle cx="115.00" cy="296.00" r="1.35" fill="#405d99" fill-opacity="0.85"/>
<circle cx="85.10" cy="299.90" r="1.35" fill="#405d99" fill-opacity="0.85"/>
<circle cx="93.50" cy="301.20" r="1.35" fill="#405d99" fill-opacity="0.85"/>
<circle cx="101.20" cy="299.00" r="1.35" fill="#405d99" fill-opacity="0.85"/>
<circle cx="112.50" cy="298.80" r="1.35" fill="#405d99" fill-opacity="0.85"/>
<circle cx="80.20" cy="305.50" r="1.35" fill="#405d99" fill-opacity="0.85"/>
<circle cx="82.10" cy="306.30" r="1.35" fill="#405d99" fill-opacity="0.85"/>
<circle cx="95.80" cy="305.50" r="1.35" fill="#405d99" fill-opacity="0.85"/>
<circle cx="98.50" cy="302.80" r="1.35" fill="#405d99" fill-opacity="0.85"/>
<circle cx="110.40" cy="303.30" r="1.35" fill="#405d99" fill-opacity="0.85"/>
<circle cx="112.50" cy="305.50" r="1.35" fill="#405d99" fill-opacity="0.85"/>
<circle cx="92.60" cy="307.60" r="1.35" fill="#405d99" fill-opacity="0.85"/>
<circle cx="105.50" cy="308.20" r="1.35" fill="#405d99" fill-opacity="0.85"/>
<circle cx="114.20" cy="308.20" r="1.35" fill="#405d99" fill-opacity="0.85"/>
<circle cx="80.20" cy="311.40" r="1.35" fill="#405d99" fill-opacity="0.85"/>
<circle cx="89.40" cy="308.70" r="1.35" fill="#405d99" fill-opacity="0.85"/>
<circle cx="116.30" cy="311.10" r="1.35" fill="#405d99" fill-opacity="0.85"/>
<circle cx="87.20" cy="313.50" r="1.35" fill="#405d99" fill-opacity="0.85"/>
<circle cx="93.20" cy="314.10" r="1.35" fill="#405d99" fill-opacity="0.85"/>
<circle cx="98.00" cy="312.50" r="1.35" fill="#405d99" fill-opacity="0.85"/>
<circle cx="102.30" cy="314.10" r="1.35" fill="#405d99" fill-opacity="0.85"/>
<circle cx="107.20" cy="313.00" r="1.35" fill="#405d99" fill-opacity="0.85"/>
<circle cx="111.50" cy="314.60" r="1.35" fill="#405d99" fill-opacity="0.85"/>
<circle cx="84.00" cy="316.80" r="1.35" fill="#405d99" fill-opacity="0.85"/>
<circle cx="89.40" cy="317.30" r="1.35" fill="#405d99" fill-opacity="0.85"/>
<circle cx="94.80" cy="317.30" r="1.35" fill="#405d99" fill-opacity="0.85"/>
<circle cx="103.40" cy="316.80" r="1.35" fill="#405d99" fill-opacity="0.85"/>
<circle cx="108.80" cy="317.30" r="1.35" fill="#405d99" fill-opacity="0.85"/>
<circle cx="115.20" cy="317.30" r="1.35" fill="#405d99" fill-opacity="0.85"/>
<circle cx="78.60" cy="318.90" r="1.35" fill="#405d99" fill-opacity="0.85"/>
<circle cx="80.80" cy="317.80" r="1.35" fill="#405d99" fill-opacity="0.85"/>
<circle cx="82.00" cy="345.50" r="1.35" fill="#405d99" fill-opacity="0.85"/>
<circle cx="83.80" cy="352.30" r="1.35" fill="#405d99" fill-opacity="0.85"/>
<circle cx="82.20" cy="357.50" r="1.35" fill="#405d99" fill-opacity="0.85"/>
<circle cx="78.90" cy="361.20" r="1.35" fill="#405d99" fill-opacity="0.85"/>
<circle cx="87.50" cy="356.60" r="1.35" fill="#405d99" fill-opacity="0.85"/>
<circle cx="92.50" cy="354.80" r="1.35" fill="#405d99" fill-opacity="0.85"/>
<circle cx="96.80" cy="356.00" r="1.35" fill="#405d99" fill-opacity="0.85"/>
<circle cx="99.80" cy="353.50" r="1.35" fill="#405d99" fill-opacity="0.85"/>
<circle cx="103.50" cy="351.70" r="1.35" fill="#405d99" fill-opacity="0.85"/>
<circle cx="106.00" cy="356.00" r="1.35" fill="#405d99" fill-opacity="0.85"/>
<circle cx="109.70" cy="358.50" r="1.35" fill="#405d99" fill-opacity="0.85"/>
<circle cx="111.30" cy="361.50" r="1.35" fill="#405d99" fill-opacity="0.85"/>
<circle cx="113.00" cy="353.30" r="1.35" fill="#405d99" fill-opacity="0.85"/>
<circle cx="115.00" cy="352.30" r="1.35" fill="#405d99" fill-opacity="0.85"/>
<circle cx="89.40" cy="365.20" r="1.35" fill="#405d99" fill-opacity="0.85"/>
<circle cx="87.90" cy="368.10" r="1.35" fill="#405d99" fill-opacity="0.85"/>
<circle cx="106.00" cy="365.20" r="1.35" fill="#405d99" fill-opacity="0.85"/>
<circle cx="103.20" cy="369.50" r="1.35" fill="#405d99" fill-opacity="0.85"/>
<circle cx="110.60" cy="372.20" r="1.35" fill="#405d99" fill-opacity="0.85"/>
<circle cx="91.00" cy="375.30" r="1.35" fill="#405d99" fill-opacity="0.85"/>
<circle cx="104.80" cy="375.70" r="1.35" fill="#405d99" fill-opacity="0.85"/>
<circle cx="81.80" cy="389.80" r="1.35" fill="#405d99" fill-opacity="0.85"/>
<circle cx="115.00" cy="390.50" r="1.35" fill="#405d99" fill-opacity="0.85"/>
<circle cx="88.50" cy="349.50" r="1.35" fill="#405d99" fill-opacity="0.85"/>
<circle cx="107.50" cy="348.50" r="1.35" fill="#405d99" fill-opacity="0.85"/>
<circle cx="94.00" cy="350.50" r="1.35" fill="#405d99" fill-opacity="0.85"/>
<circle cx="108.63" cy="335.92" r="1.35" fill="#405d99" fill-opacity="0.85"/>
<circle cx="96.93" cy="347.89" r="1.35" fill="#405d99" fill-opacity="0.85"/>
<circle cx="91.71" cy="347.04" r="1.35" fill="#405d99" fill-opacity="0.85"/>
<circle cx="78.34" cy="332.75" r="1.35" fill="#405d99" fill-opacity="0.85"/>
<circle cx="112.37" cy="319.67" r="1.35" fill="#405d99" fill-opacity="0.85"/>
<circle cx="106.83" cy="341.63" r="1.35" fill="#405d99" fill-opacity="0.85"/>
<circle cx="98.92" cy="316.55" r="1.35" fill="#405d99" fill-opacity="0.85"/>
<circle cx="113.01" cy="338.11" r="1.35" fill="#405d99" fill-opacity="0.85"/>
<circle cx="94.36" cy="346.75" r="1.35" fill="#405d99" fill-opacity="0.85"/>
<circle cx="101.06" cy="317.64" r="1.35" fill="#405d99" fill-opacity="0.85"/>
<circle cx="110.42" cy="324.52" r="1.35" fill="#405d99" fill-opacity="0.85"/>
<circle cx="96.93" cy="330.23" r="1.35" fill="#405d99" fill-opacity="0.85"/>
<circle cx="81.70" cy="339.19" r="1.35" fill="#405d99" fill-opacity="0.85"/>
<circle cx="77.83" cy="325.65" r="1.35" fill="#405d99" fill-opacity="0.85"/>
<circle cx="109.51" cy="312.87" r="1.35" fill="#405d99" fill-opacity="0.85"/>
<circle cx="92.38" cy="318.86" r="1.35" fill="#405d99" fill-opacity="0.85"/>
<circle cx="81.92" cy="325.19" r="1.35" fill="#405d99" fill-opacity="0.85"/>
<circle cx="109.27" cy="345.39" r="1.35" fill="#405d99" fill-opacity="0.85"/>
<circle cx="98.99" cy="314.65" r="1.35" fill="#405d99" fill-opacity="0.85"/>
<circle cx="111.15" cy="317.46" r="1.35" fill="#405d99" fill-opacity="0.85"/>
<circle cx="104.94" cy="312.31" r="1.35" fill="#405d99" fill-opacity="0.85"/>
<circle cx="96.32" cy="315.27" r="1.35" fill="#405d99" fill-opacity="0.85"/>
<circle cx="89.14" cy="330.53" r="1.35" fill="#405d99" fill-opacity="0.85"/>
<circle cx="92.63" cy="327.15" r="1.35" fill="#405d99" fill-opacity="0.85"/>
<circle cx="91.75" cy="336.08" r="1.35" fill="#405d99" fill-opacity="0.85"/>
<circle cx="105.50" cy="314.57" r="1.35" fill="#405d99" fill-opacity="0.85"/>
<circle cx="106.52" cy="338.78" r="1.35" fill="#405d99" fill-opacity="0.85"/>
<circle cx="88.84" cy="325.54" r="1.35" fill="#405d99" fill-opacity="0.85"/>
<circle cx="105.52" cy="330.43" r="1.35" fill="#405d99" fill-opacity="0.85"/>
<circle cx="80.14" cy="336.99" r="1.35" fill="#405d99" fill-opacity="0.85"/>
<circle cx="104.51" cy="332.88" r="1.35" fill="#405d99" fill-opacity="0.85"/>
<circle cx="109.92" cy="329.52" r="1.35" fill="#405d99" fill-opacity="0.85"/>
<circle cx="107.24" cy="324.92" r="1.35" fill="#405d99" fill-opacity="0.85"/>
<circle cx="107.20" cy="344.13" r="1.35" fill="#405d99" fill-opacity="0.85"/>
<circle cx="84.24" cy="331.73" r="1.35" fill="#405d99" fill-opacity="0.85"/>
<circle cx="101.01" cy="330.09" r="1.35" fill="#405d99" fill-opacity="0.85"/>
<circle cx="102.06" cy="337.62" r="1.35" fill="#405d99" fill-opacity="0.85"/>
<circle cx="104.38" cy="341.99" r="1.35" fill="#405d99" fill-opacity="0.85"/>
<circle cx="90.72" cy="312.10" r="1.35" fill="#405d99" fill-opacity="0.85"/>
<circle cx="96.72" cy="338.44" r="1.35" fill="#405d99" fill-opacity="0.85"/>
<circle cx="84.61" cy="320.05" r="1.35" fill="#405d99" fill-opacity="0.85"/>
<circle cx="85.63" cy="323.69" r="1.35" fill="#405d99" fill-opacity="0.85"/>
<circle cx="100.53" cy="312.43" r="1.35" fill="#405d99" fill-opacity="0.85"/>
<circle cx="113.14" cy="334.61" r="1.35" fill="#405d99" fill-opacity="0.85"/>
<circle cx="95.60" cy="311.03" r="1.35" fill="#405d99" fill-opacity="0.85"/>
<circle cx="102.31" cy="325.96" r="1.35" fill="#405d99" fill-opacity="0.85"/>
<circle cx="100.45" cy="314.79" r="1.35" fill="#405d99" fill-opacity="0.85"/>
<circle cx="113.42" cy="325.04" r="1.35" fill="#405d99" fill-opacity="0.85"/>
<circle cx="86.57" cy="326.03" r="1.35" fill="#405d99" fill-opacity="0.85"/>
<circle cx="117.44" cy="330.85" r="1.35" fill="#405d99" fill-opacity="0.85"/>
<circle cx="82.25" cy="330.67" r="1.35" fill="#405d99" fill-opacity="0.85"/>
<circle cx="115.55" cy="320.83" r="1.35" fill="#405d99" fill-opacity="0.85"/>
<circle cx="96.73" cy="322.73" r="1.35" fill="#405d99" fill-opacity="0.85"/>
<circle cx="83.89" cy="336.80" r="1.35" fill="#405d99" fill-opacity="0.85"/>
<circle cx="98.74" cy="341.42" r="1.35" fill="#405d99" fill-opacity="0.85"/>
<circle cx="98.89" cy="324.44" r="1.35" fill="#405d99" fill-opacity="0.85"/>
<circle cx="78.67" cy="329.57" r="1.35" fill="#405d99" fill-opacity="0.85"/>
<circle cx="99.38" cy="321.10" r="1.35" fill="#405d99" fill-opacity="0.85"/>
<circle cx="106.28" cy="328.11" r="1.35" fill="#405d99" fill-opacity="0.85"/>
<circle cx="86.57" cy="336.29" r="1.35" fill="#405d99" fill-opacity="0.85"/>
<circle cx="80.98" cy="322.86" r="1.35" fill="#405d99" fill-opacity="0.85"/>
<circle cx="114.61" cy="328.31" r="1.35" fill="#405d99" fill-opacity="0.85"/>
<circle cx="86.84" cy="316.71" r="1.35" fill="#405d99" fill-opacity="0.85"/>
<circle cx="81.10" cy="334.43" r="1.35" fill="#405d99" fill-opacity="0.85"/>
<circle cx="108.17" cy="320.20" r="1.35" fill="#405d99" fill-opacity="0.85"/>
<circle cx="115.31" cy="337.54" r="1.35" fill="#405d99" fill-opacity="0.85"/>
<circle cx="109.22" cy="339.05" r="1.35" fill="#405d99" fill-opacity="0.85"/>
<circle cx="105.22" cy="319.77" r="1.35" fill="#405d99" fill-opacity="0.85"/>
<circle cx="101.48" cy="316.39" r="1.35" fill="#405d99" fill-opacity="0.85"/>
<circle cx="95.88" cy="313.30" r="1.35" fill="#405d99" fill-opacity="0.85"/>
<circle cx="99.56" cy="338.89" r="1.35" fill="#405d99" fill-opacity="0.85"/>
<circle cx="99.62" cy="335.84" r="1.35" fill="#405d99" fill-opacity="0.85"/>
<circle cx="87.91" cy="321.17" r="1.35" fill="#405d99" fill-opacity="0.85"/>
<circle cx="104.51" cy="325.85" r="1.35" fill="#405d99" fill-opacity="0.85"/>
<circle cx="86.35" cy="330.22" r="1.35" fill="#405d99" fill-opacity="0.85"/>
<circle cx="92.50" cy="316.59" r="1.35" fill="#405d99" fill-opacity="0.85"/>
<circle cx="98.42" cy="328.34" r="1.35" fill="#405d99" fill-opacity="0.85"/>
<circle cx="93.71" cy="334.71" r="1.35" fill="#405d99" fill-opacity="0.85"/>
<circle cx="89.13" cy="314.88" r="1.35" fill="#405d99" fill-opacity="0.85"/>
<circle cx="92.56" cy="330.24" r="1.35" fill="#405d99" fill-opacity="0.85"/>
<circle cx="83.87" cy="326.43" r="1.35" fill="#405d99" fill-opacity="0.85"/>
<circle cx="113.90" cy="322.48" r="1.35" fill="#405d99" fill-opacity="0.85"/>
<circle cx="96.55" cy="325.76" r="1.35" fill="#405d99" fill-opacity="0.85"/>
<circle cx="101.23" cy="348.82" r="1.35" fill="#405d99" fill-opacity="0.85"/>
<circle cx="106.49" cy="322.64" r="1.35" fill="#405d99" fill-opacity="0.85"/>
<circle cx="105.23" cy="317.53" r="1.35" fill="#405d99" fill-opacity="0.85"/>
<circle cx="89.15" cy="339.72" r="1.35" fill="#405d99" fill-opacity="0.85"/>
<circle cx="94.46" cy="336.83" r="1.35" fill="#405d99" fill-opacity="0.85"/>
<circle cx="85.11" cy="314.75" r="1.35" fill="#405d99" fill-opacity="0.85"/>
<circle cx="90.54" cy="321.22" r="1.35" fill="#405d99" fill-opacity="0.85"/>
<circle cx="89.30" cy="313.05" r="1.35" fill="#405d99" fill-opacity="0.85"/>
<circle cx="97.19" cy="334.93" r="1.35" fill="#405d99" fill-opacity="0.85"/>
<circle cx="90.19" cy="333.86" r="1.35" fill="#405d99" fill-opacity="0.85"/>
<circle cx="80.75" cy="328.96" r="1.35" fill="#405d99" fill-opacity="0.85"/>
<circle cx="91.69" cy="314.37" r="1.35" fill="#405d99" fill-opacity="0.85"/>
<circle cx="103.75" cy="323.56" r="1.35" fill="#405d99" fill-opacity="0.85"/>
<circle cx="95.91" cy="341.39" r="1.35" fill="#405d99" fill-opacity="0.85"/>
<circle cx="91.11" cy="343.67" r="1.35" fill="#405d99" fill-opacity="0.85"/>
<circle cx="87.13" cy="343.48" r="1.35" fill="#405d99" fill-opacity="0.85"/>
<circle cx="85.90" cy="313.64" r="1.35" fill="#405d99" fill-opacity="0.85"/>
<circle cx="106.19" cy="335.48" r="1.35" fill="#405d99" fill-opacity="0.85"/>
<circle cx="109.61" cy="314.81" r="1.35" fill="#405d99" fill-opacity="0.85"/>
<circle cx="94.39" cy="328.66" r="1.35" fill="#405d99" fill-opacity="0.85"/>
<circle cx="94.10" cy="312.31" r="1.35" fill="#405d99" fill-opacity="0.85"/>
<circle cx="117.09" cy="325.07" r="1.35" fill="#405d99" fill-opacity="0.85"/>
<circle cx="82.77" cy="335.73" r="1.35" fill="#405d99" fill-opacity="0.85"/>
<circle cx="92.80" cy="323.96" r="1.35" fill="#405d99" fill-opacity="0.85"/>
<circle cx="102.55" cy="311.40" r="1.35" fill="#405d99" fill-opacity="0.85"/>
<circle cx="90.13" cy="337.81" r="1.35" fill="#405d99" fill-opacity="0.85"/>
<circle cx="91.71" cy="341.38" r="1.35" fill="#405d99" fill-opacity="0.85"/>
<circle cx="105.11" cy="348.17" r="1.35" fill="#405d99" fill-opacity="0.85"/>
<circle cx="112.89" cy="340.54" r="1.35" fill="#405d99" fill-opacity="0.85"/>
<circle cx="102.21" cy="332.76" r="1.35" fill="#405d99" fill-opacity="0.85"/>
<circle cx="99.88" cy="326.47" r="1.35" fill="#405d99" fill-opacity="0.85"/>
<circle cx="99.85" cy="317.70" r="1.35" fill="#405d99" fill-opacity="0.85"/>
<circle cx="86.72" cy="347.19" r="1.35" fill="#405d99" fill-opacity="0.85"/>
<circle cx="107.69" cy="315.62" r="1.35" fill="#405d99" fill-opacity="0.85"/>
<circle cx="90.76" cy="349.29" r="1.35" fill="#405d99" fill-opacity="0.85"/>
<circle cx="103.79" cy="314.71" r="1.35" fill="#405d99" fill-opacity="0.85"/>
<circle cx="98.56" cy="349.60" r="1.35" fill="#405d99" fill-opacity="0.85"/>
<circle cx="80.31" cy="326.01" r="1.35" fill="#405d99" fill-opacity="0.85"/>
<circle cx="94.17" cy="315.67" r="1.35" fill="#405d99" fill-opacity="0.85"/>
<circle cx="94.54" cy="324.48" r="1.35" fill="#405d99" fill-opacity="0.85"/>
<circle cx="114.97" cy="332.65" r="1.35" fill="#405d99" fill-opacity="0.85"/>
<circle cx="83.59" cy="314.67" r="1.35" fill="#405d99" fill-opacity="0.85"/>
<circle cx="88.61" cy="328.71" r="1.35" fill="#405d99" fill-opacity="0.85"/>
<circle cx="111.36" cy="336.43" r="1.35" fill="#405d99" fill-opacity="0.85"/>
<circle cx="96.28" cy="350.77" r="1.35" fill="#405d99" fill-opacity="0.85"/>
<circle cx="93.24" cy="321.84" r="1.35" fill="#405d99" fill-opacity="0.85"/>
<circle cx="106.23" cy="316.45" r="1.35" fill="#405d99" fill-opacity="0.85"/>
<circle cx="84.61" cy="339.08" r="1.35" fill="#405d99" fill-opacity="0.85"/>
<circle cx="88.32" cy="336.74" r="1.35" fill="#405d99" fill-opacity="0.85"/>
<circle cx="94.37" cy="330.25" r="1.35" fill="#405d99" fill-opacity="0.85"/>
<circle cx="115.23" cy="324.83" r="1.35" fill="#405d99" fill-opacity="0.85"/>
<circle cx="89.92" cy="323.07" r="1.35" fill="#405d99" fill-opacity="0.85"/>
<circle cx="112.23" cy="316.52" r="1.35" fill="#405d99" fill-opacity="0.85"/>
<circle cx="110.11" cy="322.03" r="1.35" fill="#405d99" fill-opacity="0.85"/>
<circle cx="102.45" cy="336.03" r="1.35" fill="#405d99" fill-opacity="0.85"/>
<circle cx="110.46" cy="333.45" r="1.35" fill="#405d99" fill-opacity="0.85"/>
<circle cx="79.91" cy="330.78" r="1.35" fill="#405d99" fill-opacity="0.85"/>
<circle cx="111.20" cy="338.36" r="1.35" fill="#405d99" fill-opacity="0.85"/>
<circle cx="79.24" cy="321.35" r="1.35" fill="#405d99" fill-opacity="0.85"/>
<circle cx="110.20" cy="341.33" r="1.35" fill="#405d99" fill-opacity="0.85"/>
<circle cx="116.04" cy="329.62" r="1.35" fill="#405d99" fill-opacity="0.85"/>
<circle cx="97.41" cy="317.99" r="1.35" fill="#405d99" fill-opacity="0.85"/>
<rect x="95.8" y="325.8" width="4" height="4.6" fill="#111" stroke="#0b0b0b" stroke-width="1"/>
<line x1="96.3" x2="99.3" y1="328.1" y2="328.1" stroke="#6f8cc0" stroke-width="0.8"/>
<circle cx="157.70" cy="313.70" r="1.15" fill="#98c981"/>
<circle cx="163.60" cy="316.60" r="1.15" fill="#98c981"/>
<circle cx="182.00" cy="314.80" r="1.15" fill="#98c981"/>
<circle cx="177.80" cy="272.00" r="1.15" fill="#98c981"/>
<circle cx="155.70" cy="327.40" r="1.15" fill="#98c981"/>
<circle cx="178.20" cy="324.50" r="1.15" fill="#98c981"/>
<circle cx="157.20" cy="333.20" r="1.15" fill="#98c981"/>
<circle cx="158.60" cy="337.00" r="1.15" fill="#98c981"/>
<circle cx="153.40" cy="338.50" r="1.15" fill="#98c981"/>
<circle cx="166.50" cy="337.60" r="1.15" fill="#98c981"/>
<circle cx="175.30" cy="332.40" r="1.15" fill="#98c981"/>
<circle cx="189.90" cy="334.70" r="1.15" fill="#98c981"/>
<circle cx="190.70" cy="340.00" r="1.15" fill="#98c981"/>
<circle cx="187.00" cy="344.00" r="1.15" fill="#98c981"/>
<circle cx="164.50" cy="347.80" r="1.15" fill="#98c981"/>
<circle cx="172.90" cy="349.90" r="1.15" fill="#98c981"/>
<circle cx="177.30" cy="349.90" r="1.15" fill="#98c981"/>
<circle cx="178.20" cy="362.40" r="1.15" fill="#98c981"/>
<circle cx="168.50" cy="320.00" r="1.15" fill="#98c981"/>
<circle cx="185.00" cy="330.00" r="1.15" fill="#98c981"/>
<rect x="169.8" y="323.2" width="3.8" height="18" fill="#7cc242" stroke="#111" stroke-width="1"/>
<line x1="169.8" x2="173.6" y1="332.3" y2="332.3" stroke="#111" stroke-width="1"/>
<text x="240.2" y="200.6" font-size="10.6" font-weight="bold" fill="#111">C</text>
<line x1="282.6" x2="282.6" y1="206" y2="429" stroke="#262626" stroke-width="1.4"/>
<line x1="281.9" x2="459.3" y1="428.2" y2="428.2" stroke="#262626" stroke-width="1.5"/>
<line x1="279.4" x2="282.6" y1="409.0" y2="409.0" stroke="#262626" stroke-width="1"/>
<text x="0" y="0" transform="translate(276.4,412.1) scale(0.88,1)" font-size="8.6" text-anchor="end" fill="#222">0</text>
<line x1="279.4" x2="282.6" y1="372.2" y2="372.2" stroke="#262626" stroke-width="1"/>
<text x="0" y="0" transform="translate(276.4,375.3) scale(0.88,1)" font-size="8.6" text-anchor="end" fill="#222">20</text>
<line x1="279.4" x2="282.6" y1="335.5" y2="335.5" stroke="#262626" stroke-width="1"/>
<text x="0" y="0" transform="translate(276.4,338.6) scale(0.88,1)" font-size="8.6" text-anchor="end" fill="#222">40</text>
<line x1="279.4" x2="282.6" y1="298.7" y2="298.7" stroke="#262626" stroke-width="1"/>
<text x="0" y="0" transform="translate(276.4,301.8) scale(0.88,1)" font-size="8.6" text-anchor="end" fill="#222">60</text>
<line x1="279.4" x2="282.6" y1="262.0" y2="262.0" stroke="#262626" stroke-width="1"/>
<text x="0" y="0" transform="translate(276.4,265.1) scale(0.88,1)" font-size="8.6" text-anchor="end" fill="#222">80</text>
<line x1="279.4" x2="282.6" y1="225.2" y2="225.2" stroke="#262626" stroke-width="1"/>
<text x="0" y="0" transform="translate(276.4,228.3) scale(0.88,1)" font-size="8.6" text-anchor="end" fill="#222">100</text>
<text x="0" y="0" transform="translate(256.6,316.6) rotate(-90) scale(0.76,1)" font-size="9.8" text-anchor="middle" fill="#222">MYC IHC score (% positive cells)</text>
<text x="0" y="0" transform="translate(330.8,438.6) scale(0.9,1)" font-size="8.6" text-anchor="middle" fill="#222">NEG</text>
<text x="0" y="0" transform="translate(411.2,438.6) scale(0.9,1)" font-size="8.6" text-anchor="middle" fill="#222">POS</text>
<text x="0" y="0" transform="translate(370.8,452.3) scale(0.9,1)" font-size="8.4" text-anchor="middle" fill="#222">N11S</text>
<path d="M330.4 218 V216.2 H411.6 V218" stroke="#3a3a3a" stroke-width="1.25" fill="none"/>
<text x="0" y="0" transform="translate(370.8,211.6) scale(0.86,1)" font-size="8.8" text-anchor="middle" fill="#222">&lt; 0.0001</text>
<rect x="302.5" y="298.7" width="56.3" height="91.9" fill="none" stroke="#566ea5" stroke-width="1.15"/>
<line x1="330.6" x2="330.6" y1="225.2" y2="298.7" stroke="#566ea5" stroke-width="1.15"/>
<line x1="330.6" x2="330.6" y1="390.6" y2="409.0" stroke="#566ea5" stroke-width="1.15"/>
<line x1="323.6" x2="338.5" y1="225.2" y2="225.2" stroke="#28478a" stroke-width="2.1"/>
<line x1="314.6" x2="347.5" y1="243.6" y2="243.6" stroke="#28478a" stroke-width="2.1"/>
<line x1="314.6" x2="347.5" y1="262.0" y2="262.0" stroke="#28478a" stroke-width="2.1"/>
<line x1="320.2" x2="341.9" y1="280.3" y2="280.3" stroke="#28478a" stroke-width="2.1"/>
<line x1="318.8" x2="342.7" y1="298.7" y2="298.7" stroke="#28478a" stroke-width="2.1"/>
<line x1="311.7" x2="349.7" y1="317.1" y2="317.1" stroke="#28478a" stroke-width="2.1"/>
<line x1="316.8" x2="345.0" y1="335.5" y2="335.5" stroke="#28478a" stroke-width="2.1"/>
<line x1="300.5" x2="361.6" y1="353.9" y2="353.9" stroke="#28478a" stroke-width="2.1"/>
<line x1="302.5" x2="359.6" y1="372.2" y2="372.2" stroke="#28478a" stroke-width="2.1"/>
<line x1="288.4" x2="373.8" y1="390.6" y2="390.6" stroke="#28478a" stroke-width="2.1"/>
<line x1="306.1" x2="355.4" y1="409.0" y2="409.0" stroke="#28478a" stroke-width="2.1"/>
<line x1="282.6" x2="458.8" y1="335.5" y2="335.5" stroke="#c42b3b" stroke-width="1.1" stroke-dasharray="2.2,2.2"/>
<rect x="383" y="367.6" width="56.3" height="41.4" fill="none" stroke="#6db14f" stroke-width="1"/>
<line x1="411.2" x2="411.2" y1="317.1" y2="367.6" stroke="#6db14f" stroke-width="1"/>
<circle cx="411.2" cy="317.1" r="1.1" fill="#6db14f"/>
<circle cx="411.2" cy="372.2" r="1.1" fill="#6db14f"/>
<line x1="408.0" x2="414.6" y1="353.9" y2="353.9" stroke="#6db14f" stroke-width="2"/>
<line x1="409.0" x2="413.7" y1="390.6" y2="390.6" stroke="#6db14f" stroke-width="2"/>
<line x1="403.3" x2="419.3" y1="409.0" y2="409.0" stroke="#6db14f" stroke-width="2"/>
<rect x="0.5" y="0.5" width="519" height="461" fill="none" stroke="#000" stroke-width="1.4"/>
</svg></body></html>
